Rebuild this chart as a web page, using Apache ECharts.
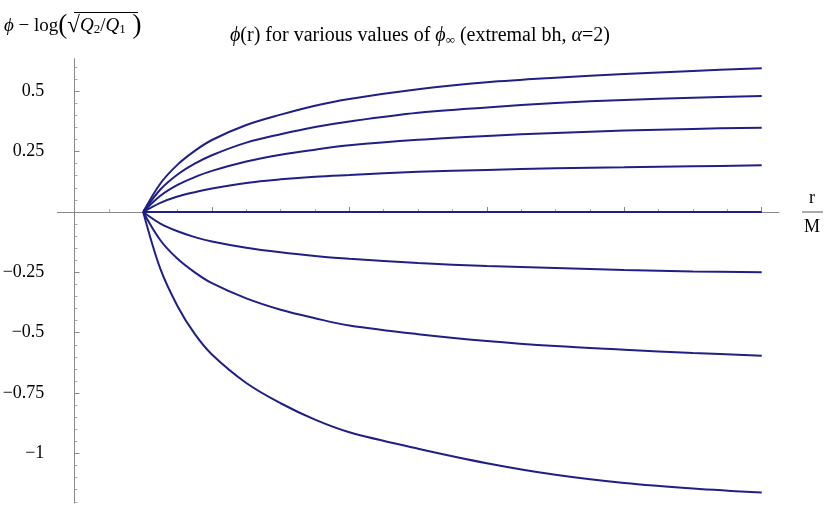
<!DOCTYPE html>
<html>
<head>
<meta charset="utf-8">
<script src="https://cdn.jsdelivr.net/npm/echarts@6/dist/echarts.min.js"></script>
<style>
  html, body { margin: 0; padding: 0; background: #fff; }
  #main { width: 831px; height: 513px; }
</style>
</head>
<body>
<div id="main"></div>
<script>
// r/M sample points
const rValues = [1, 1.25, 1.5, 1.75, 2, 2.5, 3, 3.5, 4, 5, 6, 7, 8, 9, 10];
const curve1 = [0, 0.118, 0.196, 0.253, 0.298, 0.360, 0.403, 0.440, 0.468, 0.508, 0.537, 0.556, 0.571, 0.584, 0.595];
const curve2 = [0, 0.093, 0.155, 0.200, 0.235, 0.287, 0.322, 0.352, 0.375, 0.411, 0.433, 0.451, 0.464, 0.473, 0.480];
const curve3 = [0, 0.067, 0.112, 0.144, 0.170, 0.209, 0.237, 0.258, 0.276, 0.299, 0.315, 0.327, 0.337, 0.344, 0.349];
const curve4 = [0, 0.038, 0.064, 0.082, 0.097, 0.120, 0.135, 0.146, 0.153, 0.166, 0.174, 0.181, 0.185, 0.189, 0.193];
const curve5 = [0, 0, 0, 0, 0, 0, 0, 0, 0, 0, 0, 0, 0, 0, 0];
const curve6 = [0, -0.048, -0.080, -0.104, -0.122, -0.148, -0.167, -0.182, -0.194, -0.211, -0.224, -0.232, -0.240, -0.246, -0.250];
const curve7 = [0, -0.117, -0.194, -0.250, -0.295, -0.358, -0.405, -0.440, -0.470, -0.506, -0.534, -0.555, -0.570, -0.584, -0.595];
const curve8 = [0, -0.236, -0.390, -0.505, -0.590, -0.708, -0.792, -0.860, -0.912, -0.980, -1.040, -1.088, -1.122, -1.145, -1.162];

const xMajorTicks = [2, 4, 6, 8, 10];
const xMinorTicks = [0.5, 1, 1.5, 2.5, 3, 3.5, 4.5, 5, 5.5, 6.5, 7, 7.5, 8.5, 9, 9.5];
const yMajorTicks = [-1, -0.75, -0.5, -0.25, 0.25, 0.5];
const yMinorTicks = [0.6, 0.55, 0.45, 0.4, 0.35, 0.3, 0.2, 0.15, 0.1, 0.05,
  -0.05, -0.1, -0.15, -0.2, -0.3, -0.35, -0.4, -0.45, -0.55, -0.6, -0.65, -0.7,
  -0.8, -0.85, -0.9, -0.95, -1.05, -1.1, -1.15, -1.2];

const curves = [curve1, curve2, curve3, curve4, curve5, curve6, curve7, curve8];

const lineColor = '#1f1f86';
const axisColor = '#888';
const serif = '"Liberation Serif", "DejaVu Serif", serif';

const chart = echarts.init(document.getElementById('main'));

const minus = v => String(v).replace('-', '\u2212');

const axisCommon = {
  type: 'value',
  splitLine: { show: false },
  axisLine: { onZero: true, lineStyle: { color: axisColor, width: 1 } }
};

const option = {
  animation: false,
  grid: {
    left: 57.3, right: 52.1, top: 58.6, bottom: 10,
    containLabel: false,
    outerBoundsMode: 'none'
  },
  xAxis: [
    Object.assign({}, axisCommon, {
      min: -0.25, max: 10.25, position: 'bottom',
      axisTick: { inside: true, length: 5, customValues: xMajorTicks, lineStyle: { color: axisColor } },
      axisLabel: { customValues: xMajorTicks, margin: 9, color: '#000', fontSize: 18, fontFamily: serif }
    }),
    Object.assign({}, axisCommon, {
      min: -0.25, max: 10.25, position: 'bottom',
      axisLine: { show: false, onZero: true },
      axisTick: { inside: true, length: 3, customValues: xMinorTicks, lineStyle: { color: '#aaa' } },
      axisLabel: { show: false }
    })
  ],
  yAxis: [
    Object.assign({}, axisCommon, {
      min: -1.205, max: 0.635, position: 'left',
      axisTick: { inside: true, length: 5, customValues: yMajorTicks, lineStyle: { color: axisColor } },
      axisLabel: { customValues: yMajorTicks, formatter: minus, margin: 13, color: '#000', fontSize: 18, fontFamily: serif }
    }),
    Object.assign({}, axisCommon, {
      min: -1.205, max: 0.635, position: 'left',
      axisLine: { show: false, onZero: true },
      axisTick: { inside: true, length: 3, customValues: yMinorTicks, lineStyle: { color: '#aaa' } },
      axisLabel: { show: false }
    })
  ],
  series: curves.map(c => ({
    type: 'line',
    xAxisIndex: 0,
    yAxisIndex: 0,
    data: rValues.map((r, i) => [r, c[i]]),
    smooth: 0.35,
    showSymbol: false,
    silent: true,
    lineStyle: { color: lineColor, width: 2 }
  })),
  graphic: [
    {
      type: 'text', x: 420, y: 36,
      style: {
        text: '{i|\u03d5}(r) for various values of {i|\u03d5}{sub|\u221e} (extremal bh, {i|\u03b1}=2)',
        align: 'center', verticalAlign: 'middle',
        fontSize: 20, fontFamily: serif, fill: '#000',
        rich: {
          i: { fontSize: 20, fontFamily: serif, fontStyle: 'italic' },
          sub: { fontSize: 13, fontFamily: serif, padding: [9, 0, 0, 0] }
        }
      }
    },
    {
      type: 'text', x: 4, y: 26,
      style: {
        text: '{i|\u03d5} \u2212 log{p|(}{r|\u221a}{i|Q}{sub|2}/{i|Q}{sub|1}{p| )}',
        align: 'left', verticalAlign: 'middle',
        fontSize: 19, fontFamily: serif, fill: '#000',
        rich: {
          i: { fontSize: 19, fontFamily: serif, fontStyle: 'italic' },
          sub: { fontSize: 13, fontFamily: serif, padding: [8, 0, 0, 0] },
          p: { fontSize: 27, fontFamily: serif },
          r: { fontSize: 23, fontFamily: serif }
        }
      }
    },
    { type: 'line', shape: { x1: 74, y1: 12.5, x2: 138, y2: 12.5 }, style: { stroke: '#000', lineWidth: 1 } },
    {
      type: 'text', x: 812, y: 198,
      style: { text: 'r', align: 'center', verticalAlign: 'middle', fontSize: 18, fontFamily: serif, fill: '#000' }
    },
    { type: 'line', shape: { x1: 802, y1: 212, x2: 823, y2: 212 }, style: { stroke: '#555', lineWidth: 1 } },
    {
      type: 'text', x: 812, y: 227,
      style: { text: 'M', align: 'center', verticalAlign: 'middle', fontSize: 18, fontFamily: serif, fill: '#000' }
    }
  ]
};

chart.setOption(option);
</script>
</body>
</html>
